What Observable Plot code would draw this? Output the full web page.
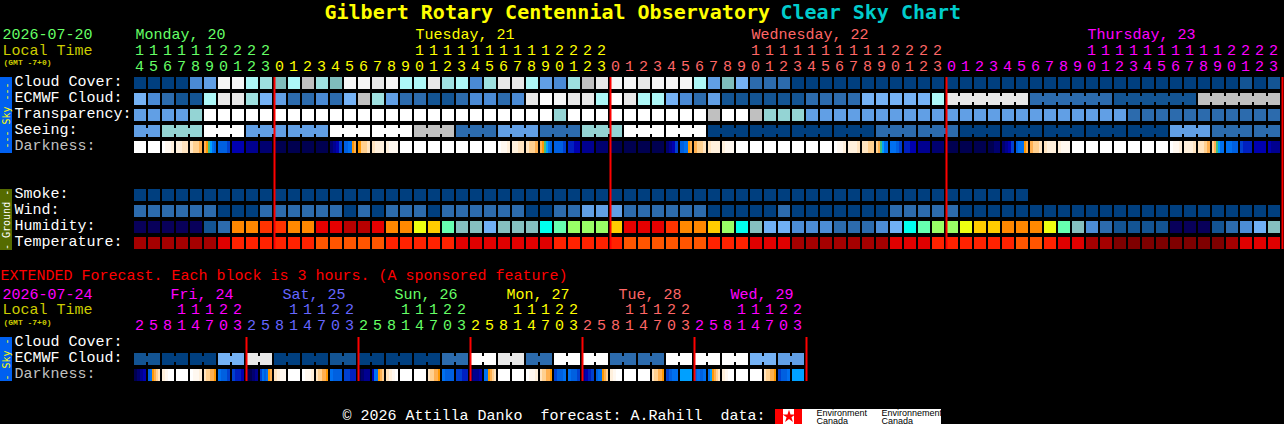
<!DOCTYPE html>
<html>
<head>
<meta charset="utf-8">
<script src="https://cdn.jsdelivr.net/npm/d3@7"></script>
<script src="https://cdn.jsdelivr.net/npm/@observablehq/plot@0.6"></script>
<style>
html,body{margin:0;padding:0;background:#000;overflow:hidden}
svg{display:block}
</style>
</head>
<body>
<div id="chart"></div>
<script>
// ---- Data. Sky level index, see skyPalette below.
const cloudCover = [0,0,0,0,3,4,11,11,6,7,8,6,9,7,8,11,11,10,11,6,6,10,7,6,3,7,10,10,6,4,3,7,9,10,11,11,10,11,11,11,6,4,8,5,2,2,2,0,0,0,0,0,0,0,0,0,0,0,0,0,0,0,0,0,0,0,0,0,0,0,0,0,0,0,0,0,0,0,0,1,0,1];
const ecmwfBlocks = [5,3,2,1,1,6,10,10,7,5,4,2,2,3,2,5,9,7,4,2,2,1,1,2,3,3,2,3,10,12,11,10,10,6,12,10,6,6,5,3,2,4,1,1,1,1,1,1,2,2,2,2,5,5,5,5,5,6,10,2,1,9];
const ecmwfSpans = [1,1,1,1,1,1,1,1,1,1,1,1,1,1,1,1,1,1,1,1,1,1,1,1,1,1,1,1,1,1,1,1,1,1,1,1,1,1,1,1,1,1,1,1,1,1,1,1,1,1,1,1,1,1,1,1,1,1,6,6,6,6];
const transparency = [4,4,4,4,13,12,12,12,12,12,12,12,12,12,12,12,12,12,12,12,12,12,12,12,12,12,12,12,12,12,13,12,12,12,12,12,12,12,12,12,12,9,12,12,9,13,13,13,4,4,4,4,4,4,4,4,4,4,4,4,4,4,4,4,4,4,4,4,4,4,4,2,2,2,2,2,2,2,2,2,2,2];
const seeingBlocks = [4,13,12,4,4,12,12,9,2,4,2,13,12,12,0,0,0,0,2,2,0,0,0,0,0,4,2,2];
const seeingSpans = [2,3,3,3,3,3,3,3,3,3,3,3,3,3,3,3,3,3,3,3,3,3,3,3,3,3,3,2];
const darkness = ["W","W","Wnnm","mmll","lkkj","jigsrq","qqqp","uuuu","vvvv","xxxx","yyyy","yyyy","yyyy","yyyy","xvup","qqrrij","ikkl","lmmm","mnnn","W","W","W","W","W","W","W","Wnnm","mmll","lkkj","jigsrq","qqqp","oouu","vvvv","xxxx","yyyy","yyyy","yyyy","yyyy","xvup","qqrrij","jkkl","lmmm","mnnn","W","W","W","W","W","W","W","Wnnm","mmml","llkk","kjgsrr","rrqp","oouu","vvvv","xxxx","yyyy","yyyy","yyyy","yyxx","xvup","qrrrij","jkkl","lmmm","mnnn","W","W","W","W","W","W","W","Wnnm","mmml","llkj","kjgsrr","rrqq","pooo","uuuu","uvvv"];
const smoke = [0,0,0,0,0,0,0,0,0,0,0,0,0,0,0,0,0,0,0,0,0,0,0,0,0,0,0,0,0,0,0,0,0,0,0,0,0,0,0,0,0,0,0,0,0,0,0,0,0,0,0,0,0,0,0,0,0,0,0,0,0,0,0,0];
const wind = [2,2,2,2,2,2,0,0,0,2,2,2,2,2,2,0,2,0,2,2,2,0,2,2,2,2,2,2,0,0,2,2,4,4,4,2,2,2,2,2,2,0,0,0,0,0,2,0,0,0,0,0,0,0,2,2,2,2,2,0,0,0,0,0,0,0,0,0,0,0,0,0,0,0,0,0,0,0,0,0,0,0];
const humidity = [0,0,0,0,0,1,2,11,11,12,12,11,11,13,13,14,14,13,11,11,9,10,7,5,5,4,5,5,5,6,7,8,8,8,10,13,13,13,12,11,11,10,8,6,5,4,4,3,3,3,2,2,2,3,4,6,7,8,8,9,10,10,11,11,11,9,7,5,3,2,1,1,1,1,0,0,0,1,2,3,4,5];
const temperature = [1,1,1,1,1,1,2,3,3,3,3,3,3,4,4,4,4,4,3,3,3,3,3,2,2,2,2,2,2,2,3,3,3,3,3,4,4,4,4,4,4,3,3,3,2,2,2,1,1,1,1,1,1,1,2,2,2,3,3,3,3,3,3,4,4,3,2,2,1,1,0,0,0,0,0,0,0,0,1,2,2,2];

// Extended forecast (one cell = 3 hours)
const extEcmwfBlocks = [1,0,0,5,10,0,0,1,0,0,0,2,12,10,2,12,12,2,2,12,12,12,5,4];
const extEcmwfSpans = [2,2,2,2,2,2,2,2,2,2,2,2,2,2,2,2,2,2,2,2,2,2,2,2];
const extDarkness = ["yxvu","qrijkl","mnWW","W","Wnnm","lkkjji","rqqp","poou","yyxv","prqrij","lmnn","W","Wnnm","lkkjji","rqqq","ppoo","yxvv","urrijk","lmnW","W","W","lkkjji","rqqq","ppoo","xvvu","rrijkl","W","W","Wnnm","lkkjji","pqqr","rqqp","vuop","qrrijk","mnWW","W","W","lkkjji","pqrr","ssss","qrqr","rsijkl","mnWW","W","W","lkkjji","pqqr","ssss"];

// Tick labels
const hours = [14,15,16,17,18,19,20,21,22,23,0,1,2,3,4,5,6,7,8,9,10,11,12,13,14,15,16,17,18,19,20,21,22,23,0,1,2,3,4,5,6,7,8,9,10,11,12,13,14,15,16,17,18,19,20,21,22,23,0,1,2,3,4,5,6,7,8,9,10,11,12,13,14,15,16,17,18,19,20,21,22,23];
const hourDays = [0,0,0,0,0,0,0,0,0,0,1,1,1,1,1,1,1,1,1,1,1,1,1,1,1,1,1,1,1,1,1,1,1,1,2,2,2,2,2,2,2,2,2,2,2,2,2,2,2,2,2,2,2,2,2,2,2,2,3,3,3,3,3,3,3,3,3,3,3,3,3,3,3,3,3,3,3,3,3,3,3,3];
const dayNames = ["Monday, 20","Tuesday, 21","Wednesday, 22","Thursday, 23"];
const dayNameCols = [0,20,44,68];
const dayLineCols = [10,34,58,82];
const extHours = [2,5,8,11,14,17,20,23];
const extDayNames = ["Fri, 24","Sat, 25","Sun, 26","Mon, 27","Tue, 28","Wed, 29"];
const extDayCols = [2.5,10.5,18.5,26.5,34.5,42.5];
const extLineCols = [8,16,24,32,40,48];
const rowNames = ["Cloud Cover:","ECMWF Cloud:","Transparency:","Seeing:","Darkness:","Smoke:","Wind:","Humidity:","Temperature:"];
const rowSlots = [0,1,2,3,4,7,8,9,10];
const extRowNames = ["Cloud Cover:","ECMWF Cloud:","Darkness:"];
const extRowSlots = [16.25,17.25,18.25];

// ---- Palettes
const skyPalette = ["#003F7F","#135493","#2C6BAD","#4A8AD4","#619FE5","#75B2F5","#ADF7F7","#9EE0E0","#7FBDBD","#C0C0C0","#E8E8E8","#F6F6F6","#FFFFFF","#94D4D4"];
const humidityPalette = ["#08005A","#135493","#2C6BAD","#4C8DD6","#70B0F5","#85BFBF","#00FFEE","#66FFB0","#99FF66","#EEFF11","#FFCC00","#FF8800","#FF3300","#E60000","#B80000"];
const tempPalette = ["#7F0000","#A50000","#E00000","#FF2200","#FF5500"];
const darkKeys = "Wnmlkjigtsrqpouvxy".split("");
const darkColors = ["#FFFFFF","#FFF8F0","#FFF0DC","#FFE4C0","#FFD090","#FFB050","#FF9800","#40C080","#00B0D0","#00A0FF","#0070F0","#0060E0","#0040D0","#0020C0","#0000B0","#000090","#000070","#000050"];
const dayColors = ["#66FF66","#FFFF00","#FF6666","#FF00FF"];
const extDayColors = ["#FF00FF","#6666FF","#66FF66","#FFFF00","#FF6666","#FF00FF"];

const colorDomain = [
  ...skyPalette.map((_,i)=>"sky"+i),
  ...humidityPalette.map((_,i)=>"hum"+i),
  ...tempPalette.map((_,i)=>"tmp"+i),
  ...darkKeys.map(k=>"drk"+k),
  ...dayColors.map((_,i)=>"day"+i),
  ...extDayColors.map((_,i)=>"ext"+i)
];
const colorRange = [...skyPalette,...humidityPalette,...tempPalette,...darkColors,...dayColors,...extDayColors];

// ---- Layout in scale units: one column = 14 px, one row slot = 16 px
const CELL = 12/14, ROWH = 12/16;
const DIGIT = 5/14;              // hour digit centre within its column
const px = v => (v-134)/14;      // page x -> column units
const py = v => (v-77)/16;       // page y -> slot units
const cells = [], links = [], slices = [];
function addRow(values, prefix, slot){
  values.forEach((v,col)=>cells.push({col, slot, key:prefix+v}));
}
function addBlocks(blockValues, spans, prefix, slot){
  let col = 0;
  blockValues.forEach((v,i)=>{
    for(let k=0;k<spans[i];k++){
      cells.push({col:col+k, slot, key:prefix+v});
      if(k<spans[i]-1) links.push({col:col+k, slot, key:prefix+v});
    }
    col += spans[i];
  });
}
function addDark(values, slot){
  values.forEach((s,col)=>{
    const n = s.length;
    [...s].forEach((ch,i)=>slices.push({x1:col+CELL*i/n, x2:col+CELL*(i+1)/n, slot, key:"drk"+ch}));
  });
}
addRow(cloudCover,"sky",0);
addBlocks(ecmwfBlocks, ecmwfSpans, "sky", 1);
addRow(transparency,"sky",2);
addBlocks(seeingBlocks, seeingSpans, "sky", 3);
addDark(darkness,4);
addRow(smoke,"sky",7);
addRow(wind,"sky",8);
addRow(humidity,"hum",9);
addRow(temperature,"tmp",10);
addBlocks(extEcmwfBlocks, extEcmwfSpans, "sky", 17.25);
addDark(extDarkness,18.25);

const MONO = "'Liberation Mono', monospace";
const TITLE = "'DejaVu Sans Mono', monospace";
const BASE = 8/16;            // row label baseline below a slot's top
const HEAD = 9/16;            // header text baseline below a slot's top

const hourRows = hours.map((h,col)=>({h,col,day:hourDays[col]}));
const extRows = extDayNames.flatMap((_,d)=>extHours.map((h,i)=>({h,col:d*8+i,day:d})));
const sideBars = [
  {y1:0,y2:4.75,fill:"#0060F0",text:"--- Sky ---",color:"#FFFF00"},
  {y1:7,y2:10.8,fill:"#556B00",text:"- Ground -",color:"#FFFFFF"},
  {y1:16.25,y2:19,fill:"#0060F0",text:"- Sky -",color:"#FFFF00"}
];
const txt = (data,o)=>Plot.text(data,{textAnchor:"start",lineAnchor:"bottom",fontFamily:MONO,fontSize:15,...o});
const one = (s)=>[s];

const plot = Plot.plot({
  width:1284, height:424, margin:0,
  style:{background:"#000"},
  x:{axis:null, domain:[px(0),px(1284)], range:[0,1284]},
  y:{axis:null, domain:[py(0),py(424)], range:[0,424]},
  color:{domain:colorDomain, range:colorRange},
  marks:[
    Plot.rect(cells,{x1:"col",x2:d=>d.col+CELL,y1:"slot",y2:d=>d.slot+ROWH,fill:"key",shapeRendering:"crispEdges"}),
    Plot.rect(links,{x1:d=>d.col+CELL,x2:d=>d.col+1,y1:d=>d.slot+3/16,y2:d=>d.slot+9/16,fill:"key",shapeRendering:"crispEdges"}),
    Plot.rect(slices,{x1:"x1",x2:"x2",y1:"slot",y2:d=>d.slot+ROWH,fill:"key",shapeRendering:"crispEdges"}),
    Plot.ruleX(dayLineCols,{y1:0,y2:10.75,stroke:"#FF0000",strokeWidth:2}),
    Plot.ruleX(extLineCols,{y1:16.25,y2:19,stroke:"#FF0000",strokeWidth:2}),
    // side bars
    Plot.rect(sideBars,{x1:px(0),x2:px(12),y1:"y1",y2:"y2",fill:d=>d.fill,shapeRendering:"crispEdges"}),
    Plot.text(sideBars,{x:px(6),y:d=>(d.y1+d.y2)/2,text:"text",rotate:-90,fill:d=>d.color,fontFamily:TITLE,fontSize:10}),
    // title
    Plot.text(one("Gilbert Rotary Centennial Observatory"),{x:px(324),y:py(18),text:d=>d,textAnchor:"start",lineAnchor:"bottom",fill:"#FFFF00",fontFamily:TITLE,fontSize:20,fontWeight:"bold"}),
    Plot.text(one("Clear Sky Chart"),{x:px(780),y:py(18),text:d=>d,textAnchor:"start",lineAnchor:"bottom",fill:"#00CCCC",fontFamily:TITLE,fontSize:20,fontWeight:"bold"}),
    // main header
    txt(one("2026-07-20"),{x:px(2),y:-3+HEAD,text:d=>d,fill:"#66FF66"}),
    txt(one("Local Time"),{x:px(2),y:-2+HEAD,text:d=>d,fill:"#CCCC00"}),
    txt(one("(GMT -7+0)"),{x:px(3),y:py(64),text:d=>d,fill:"#CCCC00",fontSize:8,fontWeight:"bold"}),
    txt(dayNames,{x:(d,i)=>dayNameCols[i]+.07,y:-3+HEAD,text:d=>d,fill:(d,i)=>"day"+i}),
    Plot.text(hourRows.filter(d=>d.h>=10),{x:d=>d.col+DIGIT,y:-2+HEAD,text:d=>String(Math.floor(d.h/10)),fill:d=>"day"+d.day,lineAnchor:"bottom",fontFamily:MONO,fontSize:15}),
    Plot.text(hourRows,{x:d=>d.col+DIGIT,y:-1+HEAD,text:d=>String(d.h%10),fill:d=>"day"+d.day,lineAnchor:"bottom",fontFamily:MONO,fontSize:15}),
    // row labels
    txt(rowNames,{x:px(14),y:(d,i)=>rowSlots[i]+BASE,text:d=>d,fill:d=>d==="Darkness:"?"#C0C0C0":"#FFFFFF"}),
    // extended
    txt(one("EXTENDED Forecast. Each block is 3 hours. (A sponsored feature)"),{x:px(0),y:py(279),text:d=>d,fill:"#FF0000"}),
    txt(one("2026-07-24"),{x:px(2),y:py(298),text:d=>d,fill:"#FF00FF"}),
    txt(one("Local Time"),{x:px(2),y:py(313),text:d=>d,fill:"#CCCC00"}),
    txt(one("(GMT -7+0)"),{x:px(3),y:py(324),text:d=>d,fill:"#CCCC00",fontSize:8,fontWeight:"bold"}),
    txt(extDayNames,{x:(d,i)=>extDayCols[i]+.07,y:py(298),text:d=>d,fill:(d,i)=>"ext"+i}),
    Plot.text(extRows.filter(d=>d.h>=10),{x:d=>d.col+DIGIT,y:py(313),text:d=>String(Math.floor(d.h/10)),fill:d=>"ext"+d.day,lineAnchor:"bottom",fontFamily:MONO,fontSize:15}),
    Plot.text(extRows,{x:d=>d.col+DIGIT,y:py(329),text:d=>String(d.h%10),fill:d=>"ext"+d.day,lineAnchor:"bottom",fontFamily:MONO,fontSize:15}),
    txt(extRowNames,{x:px(14),y:(d,i)=>extRowSlots[i]+BASE,text:d=>d,fill:d=>d==="Darkness:"?"#C0C0C0":"#FFFFFF"}),
    // footer
    txt(one("© 2026 Attilla Danko  forecast: A.Rahill  data:"),{x:px(342),y:py(419),text:d=>d,fill:"#FFFFFF"}),
    // credit logo
    Plot.rect(one("logo"),{x1:px(775),x2:px(941),y1:py(409),y2:py(424),fill:"#FFFFFF"}),
    Plot.rect(["l","r"],{x1:d=>d==="l"?px(775):px(794),x2:d=>d==="l"?px(783):px(802),y1:py(409),y2:py(424),fill:"#FF0000"}),
    Plot.dot(one("leaf"),{x:px(788.5),y:py(416),symbol:"star",r:4,fill:"#FF0000"}),
    Plot.text(["Environment","Canada","Environnement","Canada"],{x:(d,i)=>i<2?px(816):px(881),y:(d,i)=>py(i%2?423:415.5),text:d=>d,textAnchor:"start",lineAnchor:"bottom",fill:"#000000",fontFamily:"'Liberation Sans', sans-serif",fontSize:9})
  ]
});
document.getElementById("chart").appendChild(plot);
</script>
</body>
</html>
